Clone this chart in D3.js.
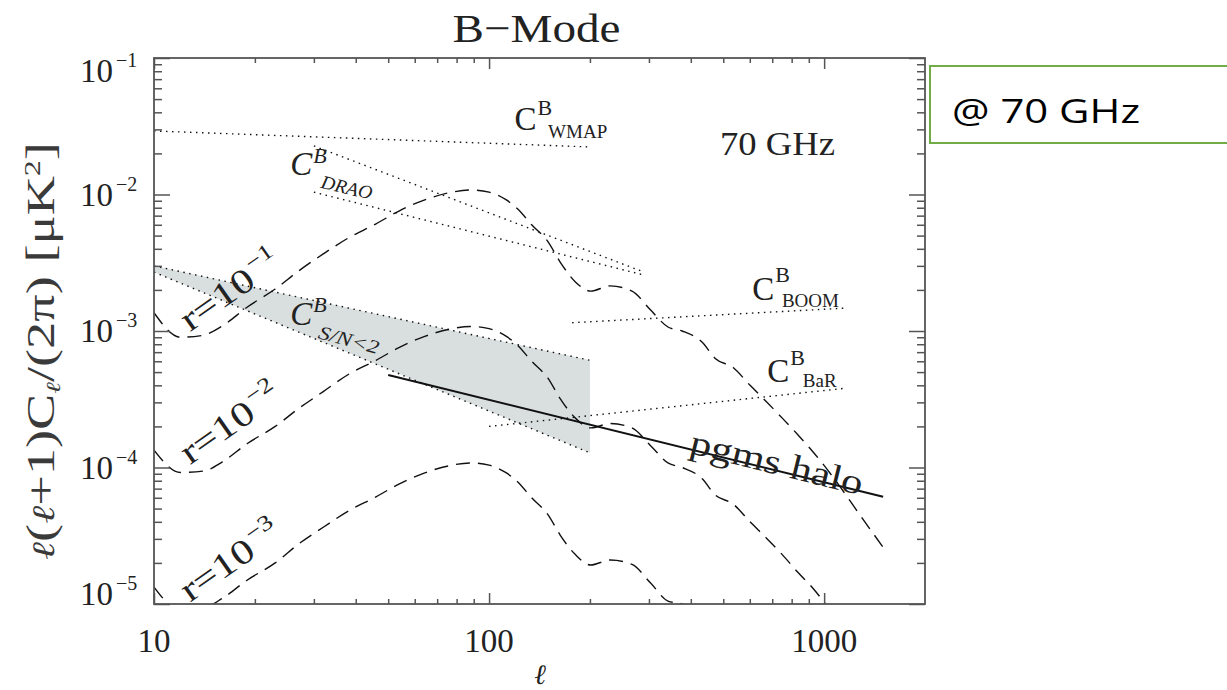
<!DOCTYPE html>
<html>
<head>
<meta charset="utf-8">
<script src="https://cdn.jsdelivr.net/npm/d3@7"></script>
<style>
  body { margin: 0; background: #fff; }
</style>
</head>
<body>
<div id="chart"></div>
<script>
	// ---- data (ell, l(l+1)C_l/2pi in uK^2) ----
	const ellR1 = [10, 12, 14, 16, 19, 23, 27, 32, 38, 46, 54, 64, 76, 88, 100, 112, 122, 134, 150, 163, 181, 201, 230, 267, 303, 342, 377, 432, 473, 535, 601, 667, 750, 836, 927, 1079, 1262, 1500];
	const clR1  = [1.36e-3, 9.0e-4, 9.3e-4, 1.09e-3, 1.5e-3, 2.03e-3, 2.75e-3, 3.67e-3, 4.8e-3, 6.1e-3, 7.6e-3, 9.1e-3, 1.03e-2, 1.08e-2, 1.04e-2, 9.2e-3, 7.8e-3, 6.0e-3, 4.5e-3, 3.2e-3, 2.29e-3, 1.96e-3, 2.14e-3, 1.96e-3, 1.43e-3, 1.07e-3, 1.0e-3, 8.3e-4, 6.3e-4, 5.4e-4, 4.0e-4, 3.1e-4, 2.3e-4, 1.73e-4, 1.3e-4, 8.1e-5, 4.7e-5, 2.6e-5];

	const ellR2 = [10, 12, 14, 16, 19, 23, 27, 32, 38, 46, 54, 64, 76, 88, 100, 112, 122, 134, 150, 163, 181, 201, 230, 267, 303, 342, 377, 432, 473, 535, 601, 667, 750, 836, 927, 1079];
	const clR2  = [1.34e-4, 9.2e-5, 9.4e-5, 1.1e-4, 1.5e-4, 2.0e-4, 2.7e-4, 3.6e-4, 4.8e-4, 6.1e-4, 7.6e-4, 9.1e-4, 1.03e-3, 1.08e-3, 1.04e-3, 9.2e-4, 7.8e-4, 6.0e-4, 4.5e-4, 3.2e-4, 2.3e-4, 1.95e-4, 2.1e-4, 1.95e-4, 1.45e-4, 1.08e-4, 1.0e-4, 8.3e-5, 6.3e-5, 5.4e-5, 4.0e-5, 3.1e-5, 2.3e-5, 1.7e-5, 1.3e-5, 8.0e-6];

	const ellR3 = [10, 12, 14, 16, 19, 23, 27, 32, 38, 46, 54, 64, 76, 88, 100, 112, 122, 134, 150, 163, 181, 201, 230, 267, 303, 342, 377, 432];
	const clR3  = [1.33e-5, 9.0e-6, 9.3e-6, 1.1e-5, 1.5e-5, 2.0e-5, 2.75e-5, 3.65e-5, 4.8e-5, 6.1e-5, 7.6e-5, 9.1e-5, 1.03e-4, 1.08e-4, 1.04e-4, 9.2e-5, 7.8e-5, 6.0e-5, 4.5e-5, 3.2e-5, 2.3e-5, 1.93e-5, 2.1e-5, 1.95e-5, 1.43e-5, 1.05e-5, 1.0e-5, 8.0e-6];

	const wmapEll = [10, 200],   wmapCl = [2.92e-2, 2.23e-2];
	const draoEllA = [30, 290],  draoClA = [2.27e-2, 2.7e-3];
	const draoEllB = [30, 290],  draoClB = [1.04e-2, 2.57e-3];
	const boomEll = [177, 1150], boomCl = [1.15e-3, 1.47e-3];
	const barEll = [100, 1150],  barCl = [2.0e-4, 3.8e-4];
	const haloEll = [50, 1500],  haloCl = [4.76e-4, 6.1e-5];
	const snEll = [10, 200];
	const snUpper = [3.0e-3, 6.1e-4];
	const snLower = [2.7e-3, 1.28e-4];

	const xTickVals = [10, 100, 1000];
	const xTickLabels = ["10", "100", "1000"];
	const yTickVals = [1e-1, 1e-2, 1e-3, 1e-4, 1e-5];
	const yTickExps = ["\u22121", "\u22122", "\u22123", "\u22124", "\u22125"];

	// ---- setup ----
	let width = 1227;
	let height = 690;
	let frame = {left: 154, right: 925, top: 58, bottom: 604};
	let serif = "'Liberation Serif', 'DejaVu Serif', serif";
	let axisColor = "#555555";

	let svg = d3.select("#chart")
		.append("svg")
		.attr("width", width)
		.attr("height", height)
		.style("background", "#ffffff");

	let x = d3.scaleLog().domain([10, 2000]).range([frame.left, frame.right]);
	let y = d3.scaleLog().domain([1e-5, 1e-1]).range([frame.bottom, frame.top]);

	svg.append("clipPath").attr("id", "plotclip")
		.append("rect")
		.attr("x", frame.left).attr("y", frame.top)
		.attr("width", frame.right - frame.left)
		.attr("height", frame.bottom - frame.top);

	let plot = svg.append("g").attr("clip-path", "url(#plotclip)");

	function pairs(ells, cls) { return ells.map((e, i) => [e, cls[i]]); }

	let line = d3.line()
		.x(d => x(d[0]))
		.y(d => y(d[1]))
		.curve(d3.curveMonotoneX);

	let straight = d3.line()
		.x(d => x(d[0]))
		.y(d => y(d[1]));

	// shaded S/N<2 region
	let snPoly = pairs(snEll, snUpper).concat(pairs(snEll, snLower).reverse());
	plot.append("path")
		.attr("d", straight(snPoly) + "Z")
		.attr("fill", "#d9dfdf")
		.attr("stroke", "none");

	let dotted = [
		pairs(snEll, snUpper), pairs(snEll, snLower),
		pairs(wmapEll, wmapCl), pairs(draoEllA, draoClA), pairs(draoEllB, draoClB),
		pairs(boomEll, boomCl), pairs(barEll, barCl)
	];
	plot.selectAll("path.dotted")
		.data(dotted)
		.enter()
		.append("path")
		.attr("class", "dotted")
		.attr("d", straight)
		.attr("fill", "none")
		.attr("stroke", "#111")
		.attr("stroke-width", 1.4)
		.attr("stroke-dasharray", "1.5,4.5");

	let dashed = [pairs(ellR1, clR1), pairs(ellR2, clR2), pairs(ellR3, clR3)];
	plot.selectAll("path.dashed")
		.data(dashed)
		.enter()
		.append("path")
		.attr("class", "dashed")
		.attr("d", line)
		.attr("fill", "none")
		.attr("stroke", "#111")
		.attr("stroke-width", 1.4)
		.attr("stroke-dasharray", "14,8");

	plot.append("path")
		.attr("d", straight(pairs(haloEll, haloCl)))
		.attr("fill", "none")
		.attr("stroke", "#111")
		.attr("stroke-width", 2);

	// ---- axes: frame with inward ticks on all four sides ----
	let xMinor = x.ticks().filter(d => !xTickVals.includes(d) && d < 2000);
	let yMinor = y.ticks().filter(d => !yTickVals.some(v => Math.abs(v - d) / v < 1e-6));

	function addAxis(axis, tx, ty) {
		let g = svg.append("g")
			.attr("transform", `translate(${tx},${ty})`)
			.call(axis);
		g.select(".domain").remove();
		g.selectAll("line").attr("stroke", axisColor).attr("stroke-width", 1.5);
		g.selectAll("text").remove();
	}

	addAxis(d3.axisBottom(x).tickValues(xMinor).tickSize(-5), 0, frame.bottom);
	addAxis(d3.axisBottom(x).tickValues(xTickVals).tickSize(-11), 0, frame.bottom);
	addAxis(d3.axisTop(x).tickValues(xMinor).tickSize(-5), 0, frame.top);
	addAxis(d3.axisTop(x).tickValues(xTickVals).tickSize(-11), 0, frame.top);
	addAxis(d3.axisLeft(y).tickValues(yMinor).tickSize(-8), frame.left, 0);
	addAxis(d3.axisLeft(y).tickValues(yTickVals).tickSize(-16), frame.left, 0);
	addAxis(d3.axisRight(y).tickValues(yMinor).tickSize(-8), frame.right, 0);
	addAxis(d3.axisRight(y).tickValues(yTickVals).tickSize(-16), frame.right, 0);

	svg.append("rect")
		.attr("x", frame.left).attr("y", frame.top)
		.attr("width", frame.right - frame.left)
		.attr("height", frame.bottom - frame.top)
		.attr("fill", "none")
		.attr("stroke", axisColor)
		.attr("stroke-width", 1.8);

	// tick labels
	svg.selectAll("text.xtick")
		.data(xTickVals)
		.enter()
		.append("text")
		.attr("class", "xtick")
		.attr("x", d => x(d))
		.attr("y", 652)
		.attr("text-anchor", "middle")
		.style("font-family", serif)
		.style("font-size", "33px")
		.attr("fill", "#222")
		.text((d, i) => xTickLabels[i]);

	let ytick = svg.selectAll("text.ytick")
		.data(yTickVals)
		.enter()
		.append("text")
		.attr("class", "ytick")
		.attr("x", 80)
		.attr("y", d => Math.min(Math.max(y(d) + 11, frame.top + 24), frame.bottom + 1))
		.style("font-family", serif)
		.style("font-size", "33px")
		.attr("fill", "#222");
	ytick.append("tspan").text("10");
	ytick.append("tspan")
		.attr("dx", 3).attr("dy", -15)
		.style("font-size", "20px")
		.text((d, i) => yTickExps[i]);

	// axis titles
	svg.append("text")
		.attr("x", (frame.left + frame.right) / 2 - 3)
		.attr("y", 42)
		.attr("text-anchor", "middle")
		.attr("textLength", 168)
		.attr("lengthAdjust", "spacingAndGlyphs")
		.style("font-family", serif)
		.style("font-size", "41px")
		.attr("fill", "#222")
		.text("B\u2212Mode");

	svg.append("text")
		.attr("x", 540)
		.attr("y", 684)
		.attr("text-anchor", "middle")
		.style("font-family", "'DejaVu Serif', serif")
		.style("font-style", "italic")
		.style("font-size", "28px")
		.attr("fill", "#222")
		.text("\u2113");

	let ytitle = svg.append("text")
		.attr("transform", "translate(54,351) rotate(-90)")
		.attr("text-anchor", "middle")
		.attr("textLength", 418)
		.attr("lengthAdjust", "spacingAndGlyphs")
		.style("font-family", serif)
		.style("font-size", "39px")
		.attr("fill", "#3a3a3a");
	let ell = (sel, size) => sel.append("tspan")
		.style("font-family", "'DejaVu Serif', serif")
		.style("font-style", "italic")
		.style("font-size", size);
	ell(ytitle, "31px").text("\u2113");
	ytitle.append("tspan").text("(");
	ell(ytitle, "31px").text("\u2113");
	ytitle.append("tspan").text("+1)C");
	ell(ytitle, "20px").attr("dy", 6).text("\u2113");
	ytitle.append("tspan").attr("dy", -6).text("/(2\u03c0)  [\u03bcK");
	ytitle.append("tspan").attr("dy", -14).style("font-size", "23px").text("2");
	ytitle.append("tspan").attr("dy", 14).text("]");

	// ---- annotations (positions in data coords) ----
	function cLabel(ell, cl, sub, opts) {
		let t = svg.append("text")
			.attr("x", x(ell)).attr("y", y(cl))
			.style("font-family", serif)
			.style("font-style", opts.italic ? "italic" : "normal")
			.attr("fill", "#222");
		t.append("tspan").style("font-size", "33px").text("C");
		t.append("tspan").attr("dx", 1).attr("dy", opts.supDy).style("font-size", "22px").text("B");
		if (sub) {
			t.append("tspan").attr("dx", opts.subDx).attr("dy", opts.subDy)
				.style("font-size", "19px").text(sub);
		}
		return t;
	}

	cLabel(119, 2.97e-2, "WMAP", {supDy: -15, subDx: -4, subDy: 23});
	cLabel(610, 1.69e-3, "BOOM", {supDy: -18, subDx: -8, subDy: 25});
	cLabel(676, 4.23e-4, "BaR", {supDy: -17, subDx: -2, subDy: 22});
	cLabel(25.5, 1.39e-2, null, {italic: true, supDy: -12});
	cLabel(25.5, 1.1e-3, null, {italic: true, supDy: -13});

	function rotLabel(ell, cl, angle, size, len, italic) {
		let t = svg.append("text")
			.attr("transform", `translate(${x(ell)},${y(cl)}) rotate(${angle})`)
			.style("font-family", serif)
			.style("font-style", italic ? "italic" : "normal")
			.style("font-size", size + "px")
			.attr("fill", "#222");
		if (len) t.attr("textLength", len).attr("lengthAdjust", "spacingAndGlyphs");
		return t;
	}

	rotLabel(31.3, 1.12e-2, 13, 19, 52, true).text("DRAO");
	rotLabel(30.7, 8.9e-4, 15, 19, 62, true).text("S/N<2");

	// pgms halo text follows the line
	let hx0 = x(haloEll[0]), hy0 = y(haloCl[0]), hx1 = x(haloEll[1]), hy1 = y(haloCl[1]);
	let haloAngle = Math.atan2(hy1 - hy0, hx1 - hx0) * 180 / Math.PI;
	rotLabel(393, 1.28e-4, haloAngle, 35, 177, false).text("pgms halo");

	let rLabels = [
		{ell: 12.8, cl: 9.8e-4, exp: "\u22121"},
		{ell: 12.8, cl: 1.04e-4, exp: "\u22122"},
		{ell: 12.8, cl: 1.02e-5, exp: "\u22123"}
	];
	rLabels.forEach(r => {
		let t = rotLabel(r.ell, r.cl, -35, 35, 114, false);
		t.append("tspan").text("r=10");
		t.append("tspan").attr("dx", 2).attr("dy", -15).style("font-size", "22px").text(r.exp);
	});

	svg.append("text")
		.attr("x", x(489)).attr("y", y(1.95e-2))
		.attr("textLength", 115)
		.attr("lengthAdjust", "spacingAndGlyphs")
		.style("font-family", serif)
		.style("font-size", "33px")
		.attr("fill", "#222")
		.text("70 GHz");

	// ---- slide box on the right ----
	svg.append("rect")
		.attr("x", 930).attr("y", 66)
		.attr("width", 320).attr("height", 77)
		.attr("fill", "#ffffff")
		.attr("stroke", "#70ad47")
		.attr("stroke-width", 2);

	svg.append("text")
		.attr("x", 952).attr("y", 123)
		.attr("textLength", 188)
		.attr("lengthAdjust", "spacingAndGlyphs")
		.style("font-family", "'Open Sans', 'Liberation Sans', sans-serif")
		.style("font-size", "32px")
		.attr("fill", "#000")
		.text("@ 70 GHz");
</script>
</body>
</html>
